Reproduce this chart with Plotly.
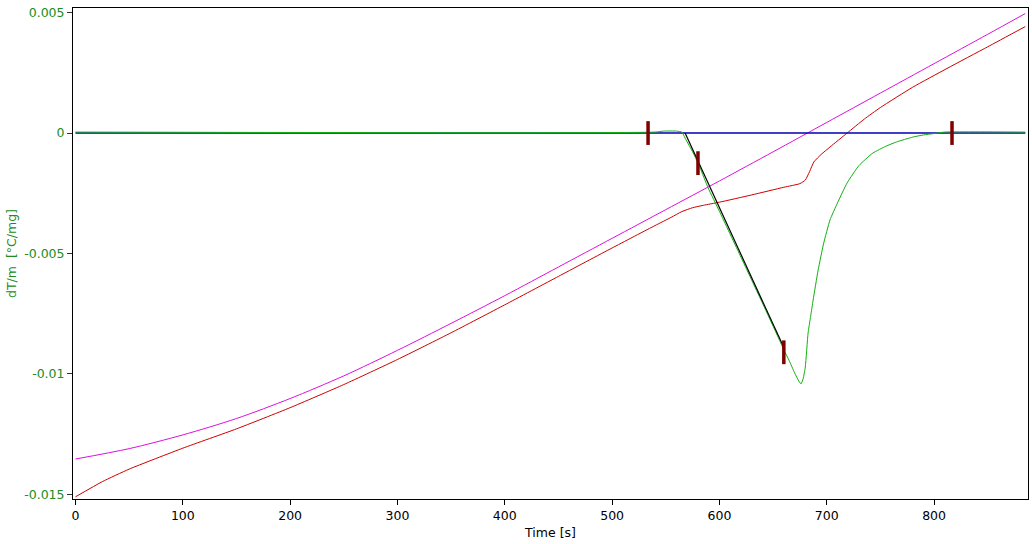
import plotly.graph_objects as go

# ---- data (values in units of 1e-3 °C/mg, converted below) ----
mag_t = [0, 50, 100, 150, 200, 250, 300, 350, 400, 450, 500, 550, 600, 650, 700, 750, 800, 850, 885]
mag_v = [-13.53, -13.10, -12.53, -11.85, -11.02, -10.08, -9.02, -7.90, -6.75, -5.56,
         -4.37, -3.18, -1.99, -0.78, 0.44, 1.66, 2.88, 4.10, 4.96]

red_t = [0, 25, 50, 100, 150, 200, 250, 300, 350, 400, 450, 500, 540, 555, 565, 575, 585, 600, 630,
         660, 675, 680, 684, 688, 695, 703, 719, 735, 750, 780, 812, 850, 885]
red_v = [-15.10, -14.47, -13.95, -13.08, -12.28, -11.40, -10.44, -9.40, -8.29, -7.13, -5.95,
         -4.77, -3.84, -3.50, -3.26, -3.10, -3.00, -2.87, -2.57, -2.25, -2.10, -1.95, -1.60, -1.20, -0.88,
         -0.58, 0.00, 0.58, 1.06, 1.90, 2.68, 3.58, 4.42]

grn_t = [0, 540, 548, 560, 565, 568, 575.6, 582, 589.5, 600, 620, 640, 655, 660, 665, 670, 674, 676, 678, 680,
         682.6, 685, 687.3, 692, 697, 703, 710, 719, 730, 743, 755, 765, 780, 790, 800, 810, 885]
grn_v = [0.04, 0.04, 0.08, 0.08, 0.04, -0.21, -0.83, -1.45, -2.28, -3.25, -5.15, -7.05, -8.50, -9.00, -9.45,
         -9.95, -10.30, -10.41, -10.20, -9.71, -8.30, -7.60, -6.93, -5.68, -4.60, -3.61, -2.90, -2.07, -1.35,
         -0.83, -0.55, -0.37, -0.17, -0.08, -0.02, 0.04, 0.04]

base_t = [0, 885]
base_v = [0, 0]

tan_t = [568, 661]
tan_v = [0, -9.0]

mark_t = [533.5, 580, 660, 816.7]
mark_v = [0, -1.25, -9.1, 0]

y_ticks = [0.005, 0, -0.005, -0.01, -0.015]
y_ticktext = ["0.005", "0", "-0.005", "-0.01", "-0.015"]
x_ticks = [0, 100, 200, 300, 400, 500, 600, 700, 800]


def scale(v):
    return [x / 1000.0 for x in v]


fig = go.Figure()
fig.add_trace(go.Scatter(x=mag_t, y=scale(mag_v), mode="lines", line=dict(color="#dd10dd", width=1, shape="spline", smoothing=0.8)))
fig.add_trace(go.Scatter(x=red_t, y=scale(red_v), mode="lines", line=dict(color="#cc0000", width=1, shape="spline", smoothing=0.5)))
fig.add_trace(go.Scatter(x=base_t, y=scale(base_v), mode="lines", line=dict(color="#0000b4", width=1.6)))
fig.add_trace(go.Scatter(x=grn_t, y=scale(grn_v), mode="lines", line=dict(color="#10b010", width=1, shape="spline", smoothing=0.5)))
fig.add_trace(go.Scatter(x=tan_t, y=scale(tan_v), mode="lines", line=dict(color="#000000", width=1.2)))
fig.add_trace(go.Scatter(x=mark_t, y=scale(mark_v), mode="markers",
                         marker=dict(symbol="line-ns", size=17, line=dict(color="#800000", width=3.5))))

font = "DejaVu Sans, sans-serif"
fig.update_layout(
    width=1032, height=544,
    margin=dict(l=73, r=4, t=8, b=45),
    paper_bgcolor="white", plot_bgcolor="white",
    showlegend=False,
    font=dict(family=font, size=12.5, color="#000000"),
    xaxis=dict(
        range=[-2.3, 887.5], tickvals=x_ticks, ticks="outside", ticklen=5, tickcolor="#000000",
        showgrid=False, zeroline=False, showline=True, linecolor="#000000", linewidth=1, mirror=True,
        automargin=False,
        tickfont=dict(family=font, size=12.5, color="#000000"),
        title=dict(text="Time [s]", font=dict(family=font, size=12.5, color="#000000"), standoff=6),
    ),
    yaxis=dict(
        range=[-0.01519, 0.00519], tickvals=y_ticks, ticktext=y_ticktext, ticks="outside", ticklen=5,
        tickcolor="#333333", showgrid=False, zeroline=False, showline=True, linecolor="#000000", linewidth=1,
        mirror=True, automargin=False, tickfont=dict(family=font, size=12.5, color="#228b22"),
        title=dict(text="dT/m \u00a0[°C/mg]", font=dict(family=font, size=12.5, color="#228b22"), standoff=4),
    ),
)

fig.write_html("out.html", config={"displayModeBar": False},
               post_script="document.body.style.margin='0';document.body.style.overflow='hidden';")
